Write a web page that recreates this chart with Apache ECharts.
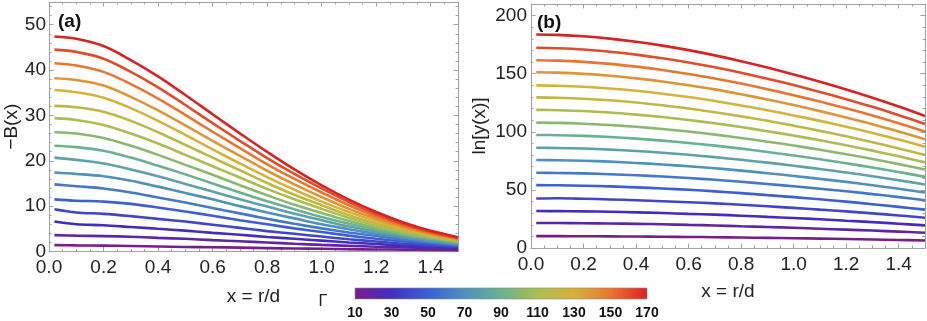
<!DOCTYPE html>
<html>
<head>
<meta charset="utf-8">
<script src="https://cdn.jsdelivr.net/npm/echarts@6/dist/echarts.min.js"></script>
<style>
html,body{margin:0;padding:0;background:#fff;}
#main{width:927px;height:321px;}
</style>
</head>
<body>
<div id="main"></div>
<script>
// x = r/d sample points
var xs = [0.02, 0.1, 0.2, 0.3, 0.4, 0.5, 0.6, 0.7, 0.8, 0.9, 1.0, 1.1, 1.2, 1.3, 1.4, 1.5];
var gammas = [10, 20, 30, 40, 50, 60, 70, 80, 90, 100, 110, 120, 130, 140, 150, 160, 170];

// panel (a): -B(x), one row per gamma
var negB = [
    [1.4, 1.35, 1.3, 1.2, 1.1, 1.0, 0.95, 0.85, 0.75, 0.65, 0.6, 0.5, 0.45, 0.4, 0.35, 0.3],
    [3.6, 3.5, 3.4, 3.25, 3.0, 2.8, 2.5, 2.25, 2.0, 1.7, 1.45, 1.25, 1.05, 0.9, 0.75, 0.6],
    [6.6, 6.0, 5.8, 5.4, 5.0, 4.6, 4.1, 3.7, 3.2, 2.8, 2.4, 2.0, 1.65, 1.3, 1.05, 0.85],
    [9.3, 8.6, 8.3, 7.8, 7.2, 6.6, 5.9, 5.2, 4.5, 3.9, 3.3, 2.7, 2.2, 1.7, 1.35, 1.05],
    [11.5, 11.2, 11.0, 10.5, 9.7, 8.8, 7.9, 6.9, 6.0, 5.1, 4.3, 3.5, 2.8, 2.2, 1.7, 1.25],
    [14.8, 14.4, 13.9, 13.0, 11.9, 10.8, 9.6, 8.4, 7.2, 6.1, 5.1, 4.2, 3.4, 2.6, 2.0, 1.45],
    [17.4, 17.1, 16.6, 15.6, 14.3, 12.9, 11.5, 10.0, 8.6, 7.3, 6.0, 4.9, 3.9, 3.0, 2.2, 1.6],
    [20.7, 20.2, 19.4, 18.1, 16.6, 14.9, 13.2, 11.5, 9.9, 8.3, 6.9, 5.5, 4.4, 3.4, 2.5, 1.8],
    [23.3, 23.0, 22.2, 20.7, 18.9, 17.0, 15.0, 13.0, 11.1, 9.3, 7.6, 6.1, 4.8, 3.7, 2.8, 1.95],
    [26.3, 26.0, 25.0, 23.3, 21.3, 19.1, 16.9, 14.6, 12.4, 10.3, 8.5, 6.7, 5.2, 4.0, 3.0, 2.1],
    [29.4, 29.0, 27.9, 26.0, 23.8, 21.3, 18.8, 16.3, 13.8, 11.5, 9.4, 7.4, 5.7, 4.3, 3.2, 2.25],
    [32.1, 31.8, 30.8, 28.8, 26.3, 23.5, 20.7, 17.9, 15.1, 12.5, 10.2, 8.0, 6.2, 4.7, 3.4, 2.4],
    [35.6, 35.1, 33.9, 31.6, 28.8, 25.7, 22.5, 19.4, 16.4, 13.6, 11.0, 8.7, 6.7, 5.0, 3.7, 2.55],
    [38.2, 37.8, 36.6, 34.1, 31.1, 27.8, 24.4, 21.1, 17.8, 14.8, 12.0, 9.4, 7.2, 5.4, 3.9, 2.7],
    [41.5, 41.0, 39.6, 36.9, 33.7, 30.1, 26.4, 22.8, 19.2, 16.0, 13.0, 10.2, 7.7, 5.7, 4.1, 2.85],
    [44.5, 44.0, 42.5, 39.6, 36.2, 32.3, 28.3, 24.4, 20.6, 17.1, 13.9, 10.9, 8.2, 6.0, 4.3, 3.0],
    [47.4, 46.9, 45.3, 42.2, 38.6, 34.5, 30.25, 26.05, 21.95, 18.1, 14.6, 11.45, 8.7, 6.4, 4.55, 3.15]
];

// panel (b): ln[y(x)]
var lnY = [
    [10.2, 10.2, 10.1, 10.0, 9.9, 9.7, 9.5, 9.3, 9.0, 8.7, 8.4, 8.1, 7.7, 7.3, 6.9, 6.5],
    [21.5, 21.5, 21.3, 21.1, 20.8, 20.4, 19.9, 19.4, 18.7, 18.1, 17.4, 16.6, 15.8, 15.0, 14.1, 13.1],
    [31.8, 31.7, 31.5, 31.2, 30.7, 30.1, 29.4, 28.7, 27.8, 26.8, 25.8, 24.7, 23.5, 22.3, 20.9, 19.5],
    [42.6, 42.8, 42.4, 41.8, 41.1, 40.3, 39.4, 38.4, 37.2, 35.9, 34.5, 33.0, 31.5, 29.8, 28.0, 26.1],
    [54.1, 54.0, 53.6, 53.0, 52.2, 51.2, 50.1, 48.7, 47.2, 45.5, 43.8, 41.9, 39.9, 37.7, 35.4, 33.0],
    [64.7, 64.6, 64.2, 63.5, 62.6, 61.5, 60.2, 58.7, 57.0, 55.1, 53.1, 51.0, 48.8, 46.4, 43.8, 41.1],
    [75.7, 75.5, 75.1, 74.3, 73.2, 71.9, 70.3, 68.6, 66.6, 64.4, 62.0, 59.5, 56.9, 54.0, 51.0, 47.8],
    [86.3, 86.1, 85.6, 84.7, 83.5, 82.0, 80.2, 78.2, 75.9, 73.5, 70.8, 68.0, 65.0, 61.8, 58.3, 54.7],
    [97.3, 97.1, 96.5, 95.5, 94.1, 92.4, 90.4, 88.1, 85.5, 82.6, 79.6, 76.4, 72.9, 69.3, 65.4, 61.2],
    [107.9, 107.7, 107.0, 105.8, 104.3, 102.4, 100.2, 97.6, 94.7, 91.5, 88.2, 84.5, 80.7, 76.6, 72.2, 67.6],
    [118.9, 118.6, 117.9, 116.6, 114.8, 112.7, 110.2, 107.3, 104.1, 100.5, 96.8, 92.7, 88.4, 83.8, 78.9, 73.7],
    [129.6, 129.3, 128.5, 127.1, 125.2, 122.8, 120.1, 116.9, 113.3, 109.5, 105.3, 100.8, 96.1, 91.1, 85.7, 80.0],
    [140.0, 139.7, 138.8, 137.3, 135.3, 132.8, 129.9, 126.5, 122.7, 118.6, 114.1, 109.4, 104.4, 99.0, 93.3, 87.2],
    [151.2, 150.9, 149.9, 148.3, 146.0, 143.3, 140.1, 136.5, 132.3, 127.8, 123.0, 117.8, 112.3, 106.5, 100.2, 93.6],
    [161.6, 161.3, 160.2, 158.5, 156.1, 153.2, 149.8, 145.9, 141.5, 136.7, 131.5, 126.0, 120.2, 114.0, 107.3, 100.2],
    [172.3, 171.9, 170.8, 168.9, 166.4, 163.3, 159.7, 155.5, 150.8, 145.7, 140.2, 134.3, 128.1, 121.5, 114.3, 106.8],
    [183.8, 183.4, 182.2, 180.2, 177.5, 174.2, 170.3, 165.8, 160.8, 155.3, 149.4, 143.1, 136.4, 129.3, 121.7, 113.6]
];

// colour bar tick labels
var cbTicks = [10, 30, 50, 70, 90, 110, 130, 150, 170];

// rainbow gradient stops (position, rgb)
var rainbow = [
    [0.0, [120, 30, 140]],
    [0.125, [68, 45, 190]],
    [0.25, [60, 95, 212]],
    [0.375, [78, 145, 190]],
    [0.5, [105, 178, 145]],
    [0.625, [170, 190, 80]],
    [0.75, [214, 178, 58]],
    [0.875, [232, 118, 48]],
    [1.0, [218, 34, 34]]
];

function rainbowColor(t) {
    for (var i = 1; i < rainbow.length; i++) {
        if (t <= rainbow[i][0]) {
            var a = rainbow[i - 1], b = rainbow[i];
            var f = (t - a[0]) / (b[0] - a[0]);
            var c = [];
            for (var j = 0; j < 3; j++) c.push(Math.round(a[1][j] + (b[1][j] - a[1][j]) * f));
            return 'rgb(' + c.join(',') + ')';
        }
    }
    return 'rgb(' + rainbow[rainbow.length - 1][1].join(',') + ')';
}

var gMin = gammas[0], gMax = gammas[gammas.length - 1];
var frameColor = '#a0a0a0';
var font = 'Liberation Sans, Arial, sans-serif';

function frameAxis(opt) {
    var ax = {
        type: 'value',
        gridIndex: opt.grid,
        position: opt.pos,
        min: opt.min,
        max: opt.max,
        interval: opt.interval,
        axisLine: { show: true, onZero: false, lineStyle: { color: frameColor, width: 1 } },
        axisTick: { show: true, inside: true, length: 4.5, lineStyle: { color: frameColor } },
        minorTick: { show: true, splitNumber: opt.minor, length: 2.5, lineStyle: { color: frameColor } },
        splitLine: { show: false },
        axisLabel: {
            show: !!opt.labels,
            margin: opt.margin || 6,
            showMaxLabel: false,
            color: '#222',
            fontSize: 19,
            fontFamily: font,
            formatter: opt.fmt
        }
    };
    if (opt.name) {
        ax.name = opt.name;
        ax.nameLocation = 'middle';
        ax.nameGap = opt.nameGap;
        ax.nameTextStyle = { color: '#222', fontSize: 19, fontFamily: font };
    }
    return ax;
}

var fmtX = function (v) { return v.toFixed(1); };
var fmtY = function (v) { return String(Math.round(v)); };

var series = [];
for (var i = 0; i < gammas.length; i++) {
    var col = rainbowColor((gammas[i] - gMin) / (gMax - gMin));
    var dA = [], dB = [];
    for (var j = 0; j < xs.length; j++) {
        dA.push([xs[j], negB[i][j]]);
        dB.push([xs[j], lnY[i][j]]);
    }
    series.push({
        type: 'line', name: 'G' + gammas[i], xAxisIndex: 0, yAxisIndex: 0,
        data: dA, smooth: 0.35, showSymbol: false, silent: true,
        lineStyle: { color: col, width: 2.6 }
    });
    series.push({
        type: 'line', name: 'G' + gammas[i], xAxisIndex: 2, yAxisIndex: 2,
        data: dB, smooth: 0.35, showSymbol: false, silent: true,
        lineStyle: { color: col, width: 2.6 }
    });
}

// colour bar
var cbX = 355, cbY = 288, cbW = 292, cbH = 11;
var stops = rainbow.map(function (s) {
    return { offset: s[0], color: 'rgb(' + s[1].join(',') + ')' };
});
var graphics = [
    {
        type: 'rect', shape: { x: cbX, y: cbY, width: cbW, height: cbH },
        style: { fill: new echarts.graphic.LinearGradient(0, 0, 1, 0, stops), stroke: '#8a8a8a', lineWidth: 0.6 }
    },
    {
        type: 'text', style: { text: 'Γ', x: 323, y: 302, font: '16px ' + font, fill: '#222',
            textAlign: 'center', textVerticalAlign: 'middle', align: 'center', verticalAlign: 'middle' }
    },
    {
        type: 'text', style: { text: '(a)', x: 58, y: 22, font: 'bold 19px ' + font, fill: '#111',
            textAlign: 'left', textVerticalAlign: 'middle', align: 'left', verticalAlign: 'middle' }
    },
    {
        type: 'text', style: { text: '(b)', x: 537, y: 23, font: 'bold 19px ' + font, fill: '#111',
            textAlign: 'left', textVerticalAlign: 'middle', align: 'left', verticalAlign: 'middle' }
    }
];
cbTicks.forEach(function (t) {
    graphics.push({
        type: 'text',
        style: { text: String(t), x: cbX + (t - gMin) / (gMax - gMin) * cbW, y: 313,
            font: 'bold 14px ' + font, fill: '#111',
            textAlign: 'center', textVerticalAlign: 'middle', align: 'center', verticalAlign: 'middle' }
    });
});

var chart = echarts.init(document.getElementById('main'));
chart.setOption({
    animation: false,
    backgroundColor: '#fff',
    grid: [
        { left: 49, top: 2, width: 409, height: 249.5 },
        { left: 531, top: 4, width: 394, height: 244 }
    ],
    xAxis: [
        frameAxis({ grid: 0, pos: 'bottom', min: 0, max: 1.5, interval: 0.2, minor: 4, labels: true, fmt: fmtX, margin: 7, name: 'x = r/d', nameGap: 36 }),
        frameAxis({ grid: 0, pos: 'top', min: 0, max: 1.5, interval: 0.2, minor: 4 }),
        frameAxis({ grid: 1, pos: 'bottom', min: 0, max: 1.5, interval: 0.2, minor: 4, labels: true, fmt: fmtX, margin: 7, name: 'x = r/d', nameGap: 34 }),
        frameAxis({ grid: 1, pos: 'top', min: 0, max: 1.5, interval: 0.2, minor: 4 })
    ],
    yAxis: [
        frameAxis({ grid: 0, pos: 'left', min: 0, max: 55, interval: 10, minor: 5, labels: true, fmt: fmtY, margin: 3, name: '−B(x)', nameGap: 23 }),
        frameAxis({ grid: 0, pos: 'right', min: 0, max: 55, interval: 10, minor: 5 }),
        frameAxis({ grid: 1, pos: 'left', min: 0, max: 210, interval: 50, minor: 5, labels: true, fmt: fmtY, margin: 4, name: 'ln[y(x)]', nameGap: 42 }),
        frameAxis({ grid: 1, pos: 'right', min: 0, max: 210, interval: 50, minor: 5 })
    ],
    graphic: graphics,
    series: series
});
</script>
</body>
</html>
